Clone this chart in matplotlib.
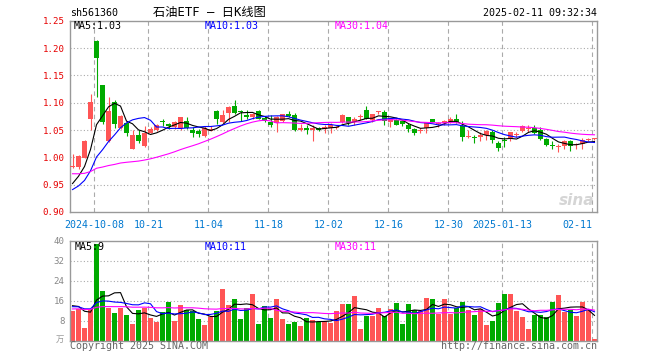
import matplotlib
matplotlib.use("Agg")
import matplotlib.pyplot as plt
import matplotlib.transforms as mtransforms
import numpy as np
import pandas as pd

# --- data (one candle per trading day) ---
opens = [0.982, 0.983, 0.999, 1.070, 1.213, 1.133, 1.030, 1.102, 1.053, 1.062,
         1.016, 1.041, 1.021, 1.045, 1.050, 1.066, 1.061, 1.055, 1.053, 1.067,
         1.050, 1.048, 1.039, 1.049, 1.085, 1.065, 1.082, 1.094, 1.084, 1.078,
         1.073, 1.085, 1.072, 1.064, 1.063, 1.067, 1.079, 1.078, 1.050, 1.053,
         1.050, 1.054, 1.052, 1.053, 1.054, 1.064, 1.073, 1.064, 1.074, 1.087,
         1.068, 1.0835, 1.0836, 1.064, 1.068, 1.0665, 1.060, 1.051, 1.049, 1.053,
         1.070, 1.0604, 1.062, 1.065, 1.071, 1.058, 1.0375, 1.0365, 1.038, 1.041,
         1.047, 1.027, 1.030, 1.035, 1.0415, 1.048, 1.0525, 1.054, 1.050, 1.0335,
         1.0215, 1.0195, 1.021, 1.0305, 1.0225, 1.024, 1.0325, 1.034]
closes = [0.985, 1.002, 1.029, 1.101, 1.182, 1.065, 1.085, 1.061, 1.076, 1.044,
          1.041, 1.029, 1.044, 1.051, 1.059, 1.065, 1.057, 1.065, 1.073, 1.053,
          1.044, 1.043, 1.054, 1.051, 1.071, 1.078, 1.093, 1.082, 1.083, 1.074,
          1.079, 1.071, 1.067, 1.059, 1.073, 1.079, 1.076, 1.050, 1.054, 1.050,
          1.054, 1.050, 1.056, 1.060, 1.055, 1.0775, 1.062, 1.071, 1.0745, 1.071,
          1.079, 1.084, 1.0665, 1.070, 1.060, 1.0604, 1.051, 1.044, 1.050, 1.064,
          1.065, 1.0622, 1.067, 1.071, 1.064, 1.038, 1.0385, 1.0355, 1.041, 1.048,
          1.032, 1.018, 1.0295, 1.046, 1.042, 1.058, 1.053, 1.044, 1.0335, 1.0226,
          1.021, 1.020, 1.0305, 1.021, 1.023, 1.032, 1.033, 1.035]
highs = [1.007, 1.004, 1.032, 1.116, 1.214, 1.133, 1.111, 1.104, 1.078, 1.065,
         1.050, 1.050, 1.057, 1.056, 1.061, 1.070, 1.062, 1.067, 1.074, 1.073,
         1.055, 1.052, 1.057, 1.057, 1.087, 1.086, 1.094, 1.104, 1.087, 1.087,
         1.082, 1.087, 1.076, 1.078, 1.076, 1.079, 1.085, 1.082, 1.061, 1.059,
         1.059, 1.056, 1.059, 1.062, 1.058, 1.079, 1.074, 1.073, 1.079, 1.094,
         1.080, 1.085, 1.087, 1.071, 1.070, 1.068, 1.062, 1.053, 1.053, 1.065,
         1.071, 1.064, 1.068, 1.073, 1.079, 1.066, 1.050, 1.041, 1.046, 1.050,
         1.050, 1.030, 1.038, 1.047, 1.046, 1.060, 1.060, 1.060, 1.056, 1.036,
         1.029, 1.024, 1.032, 1.032, 1.026, 1.035, 1.035, 1.036]
lows = [0.980, 0.979, 0.998, 1.050, 1.111, 1.061, 1.028, 1.053, 1.051, 1.039,
        1.015, 1.026, 1.019, 1.044, 1.049, 1.057, 1.051, 1.051, 1.050, 1.051,
        1.037, 1.037, 1.038, 1.048, 1.061, 1.062, 1.065, 1.079, 1.067, 1.070,
        1.071, 1.070, 1.065, 1.055, 1.047, 1.065, 1.073, 1.049, 1.049, 1.043,
        1.030, 1.049, 1.044, 1.044, 1.052, 1.063, 1.060, 1.059, 1.068, 1.070,
        1.065, 1.080, 1.060, 1.056, 1.059, 1.058, 1.046, 1.040, 1.044, 1.044,
        1.064, 1.056, 1.060, 1.062, 1.062, 1.029, 1.035, 1.027, 1.029, 1.032,
        1.027, 1.012, 1.0195, 1.030, 1.038, 1.046, 1.047, 1.042, 1.032, 1.021,
        1.016, 1.010, 1.015, 1.012, 1.016, 1.015, 1.029, 1.032]
volumes = [11.9, 12.7, 5.2, 12.7, 38.7, 19.9, 13.2, 11.2, 13.2, 10.3,
           6.7, 12.3, 13.2, 9.0, 7.4, 11.5, 15.5, 7.9, 14.3, 12.1,
           11.9, 8.7, 6.3, 9.5, 12.0, 20.5, 14.3, 16.8, 8.8, 13.2,
           18.8, 6.8, 14.0, 9.2, 16.8, 8.8, 6.6, 7.6, 6.0, 8.9,
           8.3, 7.4, 7.9, 7.0, 11.9, 14.7, 14.7, 17.9, 4.7, 9.9,
           9.9, 13.1, 9.8, 12.8, 15.1, 6.7, 14.7, 12.1, 11.9, 17.1,
           16.7, 10.7, 16.7, 10.7, 13.1, 15.5, 12.2, 10.3, 12.7, 6.3,
           7.9, 15.1, 18.7, 18.7, 11.9, 9.5, 4.7, 10.3, 10.3, 9.5,
           15.5, 18.3, 11.5, 12.3, 9.9, 15.5, 12.2, 0.7]

# history before the first visible day, estimated from where the MA lines start
prior_closes = [1.005, 1.003, 1.004, 1.001, 0.999, 1.002, 1.000, 0.998, 1.004, 1.009,
                0.995, 0.988, 0.982, 0.975, 0.970, 0.962, 0.955, 0.951, 0.945, 0.942,
                0.935, 0.928, 0.925, 0.930, 0.932, 0.935, 0.940, 0.945, 0.955]
prior_vols = [11.5, 13.0, 12.0, 12.8, 11.8, 12.6, 12.2, 12.9, 11.7, 12.5,
              12.1, 12.4, 11.9, 12.7, 12.0, 12.3, 12.6, 11.8, 12.2, 12.0,
              13.0, 13.5, 12.8, 13.4, 13.3, 14.2, 14.8, 14.5, 14.6]

tick_idx = [4, 13, 23, 33, 43, 53, 63, 72, 87]
tick_lbl = ["2024-10-08", "10-21", "11-04", "11-18", "12-02",
            "12-16", "12-30", "2025-01-13", "02-11"]
price_ticks = [0.90, 0.95, 1.00, 1.05, 1.10, 1.15, 1.20, 1.25]
vol_ticks = [8, 16, 24, 32, 40]
ma_periods = [5, 10, 30]
ma_colors = ["black", "#0000ff", "#ff00ff"]
price_ma_txt = ["MA5:1.03", "MA10:1.03", "MA30:1.04"]
vol_ma_txt = ["MA5:9", "MA10:11", "MA30:11"]

RED = "#ff5555"
GREEN = "#00aa00"
GRID = "#aaaaaa"
FRAME = "#999999"
MONO = "DejaVu Sans Mono"
W, H = 660, 360


def px(x, y):
    return x / W, 1 - y / H


fig = plt.figure(figsize=(6.6, 3.6), dpi=100)
ax = fig.add_axes([70 / W, 1 - 212 / H, 527.3 / W, 191.3 / H])
axv = fig.add_axes([70 / W, 1 - 340.7 / H, 527.3 / W, 100 / H])

x = np.arange(len(closes))
o = np.array(opens)
c = np.array(closes)
cols = np.where(c >= o, RED, GREEN)

# grid first so the marks sit on top
for a, ys in ((ax, price_ticks[1:-1]), (axv, vol_ticks[:-1])):
    for yv in ys:
        a.axhline(yv, color=GRID, lw=0.8, ls=(0, (1, 2)), zorder=0)
    for t in tick_idx:
        a.axvline(t - 0.35, color=GRID, lw=0.8, ls=(0, (4, 3)), zorder=0)

# candles
ax.vlines(x, lows, highs, colors=cols, lw=0.8, zorder=2)
body = np.maximum(np.abs(c - o), 0.0018)
ax.bar(x, body, bottom=np.minimum(o, c), width=0.78, color=cols, linewidth=0, zorder=3)

# price moving averages
c_all = pd.Series(prior_closes + closes)
v_all = pd.Series(prior_vols + volumes)
n0 = len(prior_closes)
for n, col in zip(ma_periods, ma_colors):
    ax.plot(x, c_all.rolling(n).mean().values[n0:], color=col, lw=0.8, zorder=4)
    axv.plot(x, v_all.rolling(n).mean().values[n0:], color=col, lw=0.8, zorder=4)

# volume bars
axv.bar(x, volumes, width=0.8, color=cols, linewidth=0, zorder=2)

ax.set_xlim(-0.42, 87.47)
axv.set_xlim(-0.42, 87.47)
ax.set_ylim(0.90, 1.25)
axv.set_ylim(0, 40)

for a in (ax, axv):
    for s in a.spines.values():
        s.set_color(FRAME)
        s.set_linewidth(1)
    a.set_xticks([])
    a.tick_params(axis="y", length=0, pad=4)

ax.set_yticks(price_ticks)
ax.set_yticklabels([f"{v:.2f}" for v in price_ticks], color="#e60000",
                   fontsize=6.6, family=MONO)
axv.set_yticks(vol_ticks)
axv.set_yticklabels([str(v) for v in vol_ticks], color="#888888",
                    fontsize=6.6, family=MONO)

# date labels under the price panel
trans = mtransforms.blended_transform_factory(ax.transData, ax.transAxes)
for i, (t, lbl) in enumerate(zip(tick_idx, tick_lbl)):
    ha = "right" if i == len(tick_idx) - 1 else "center"
    ax.text(t - 0.35, -0.068, lbl, transform=trans, ha=ha, va="center",
            color="#0078d0", fontsize=7.2, family=MONO)

# legends
for xp, txt, col in zip([74, 205, 335], price_ma_txt, ma_colors):
    fig.text(*px(xp, 26), txt, color=col, fontsize=7.2, family=MONO, va="center")
for xp, txt, col in zip([75, 205, 335], vol_ma_txt, ma_colors):
    fig.text(*px(xp, 247), txt, color=col, fontsize=7.2, family=MONO, va="center")

# header and footer
fig.text(*px(70, 13), "sh561360", fontsize=7.2, family=MONO, va="center")
fig.text(*px(209, 12.5), "石油ETF — 日K线图", fontsize=8.8, ha="center", va="center",
         family=["DejaVu Sans Mono", "Noto Sans CJK SC"])
fig.text(*px(597.3, 13), "2025-02-11 09:32:34", fontsize=7.2, family=MONO,
         ha="right", va="center")
fig.text(*px(70, 346), "Copyright 2025 SINA.COM", fontsize=7.2, family=MONO,
         color="#666666", va="center")
fig.text(*px(597.3, 346), "http://finance.sina.com.cn", fontsize=7.2, family=MONO,
         color="#666666", ha="right", va="center")
fig.text(*px(64, 339), "万", fontsize=6, color="#999999", ha="right", va="center",
         family=["Noto Sans CJK SC", "DejaVu Sans"])

# faint watermark
ax.text(0.995, 0.02, "sina", transform=ax.transAxes, ha="right", va="bottom",
        fontsize=11, fontweight="bold", style="italic", color="#d5d5d5", zorder=1)

fig.savefig("out.png", dpi=100)
